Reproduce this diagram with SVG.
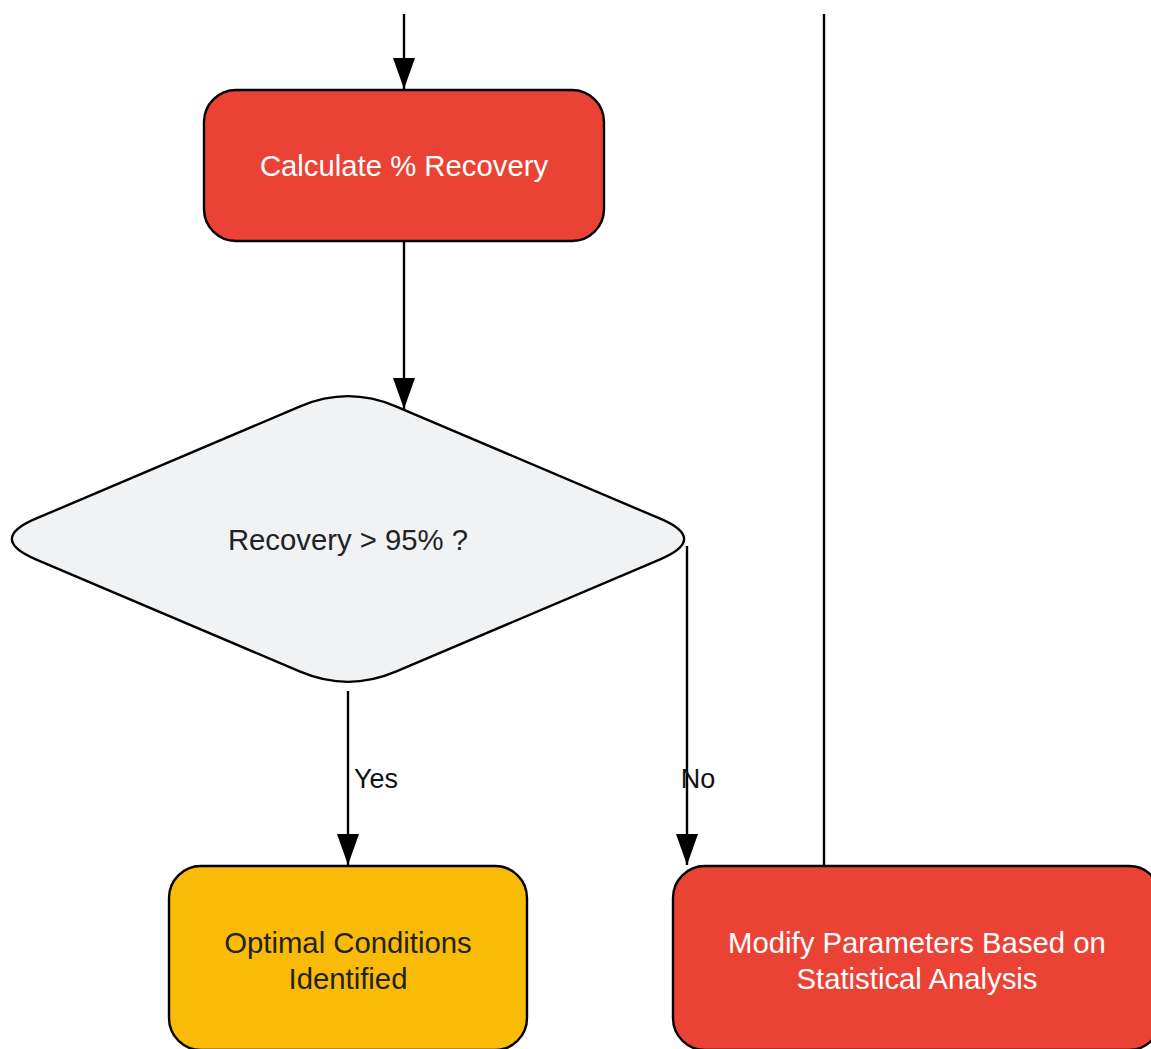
<svg xmlns="http://www.w3.org/2000/svg" width="1151" height="1049" viewBox="0 0 1151 1049">
<defs>
<marker id="arr" markerWidth="31" markerHeight="22" refX="31" refY="11" orient="auto" markerUnits="userSpaceOnUse" viewBox="0 0 31 22">
<path d="M0 0 L31 11 L0 22 Z" fill="#000"/>
</marker>
<style>
.node{stroke:#000;stroke-width:2.4}
.red{fill:#ea4335}
.yellow{fill:#f9bb05}
.grey{fill:#f1f2f4}
.t{font-family:"Liberation Sans",Arial,sans-serif;font-size:29.3px;text-anchor:middle;dominant-baseline:central}
.tw{fill:#ffffff}
.td{fill:#222222}
.edge{stroke:#000;stroke-width:2.4;fill:none}
.lbl{font-family:"Liberation Sans",Arial,sans-serif;font-size:27px;fill:#111;text-anchor:middle;dominant-baseline:central}
</style>
</defs>
<rect width="1151" height="1049" fill="#ffffff"/>
<g id="connectors">
<path class="edge" d="M404 14 V89" marker-end="url(#arr)"/>
<path class="edge" d="M404 241 V409" marker-end="url(#arr)"/>
<path class="edge" d="M348 691 V865" marker-end="url(#arr)"/>
<text class="lbl" x="376" y="779">Yes</text>
<path class="edge" d="M687 546 V865" marker-end="url(#arr)"/>
<text class="lbl" x="698" y="779">No</text>
<path class="edge" d="M824 14 V866"/>
</g>
<g id="node-calc">
<rect class="node red" x="204" y="90" width="400" height="151" rx="32" ry="32"/>
<text class="t tw" x="404" y="165">Calculate % Recovery</text>
</g>
<g id="node-decision">
<path class="node grey" d="M395.8 406.3 L660.2 518.7 Q708 539 660.2 559.3 L395.8 671.7 Q348 692 300.2 671.7 L35.8 559.3 Q-12 539 35.8 518.7 L300.2 406.3 Q348 386 395.8 406.3 Z"/>
<text class="t td" x="348" y="539">Recovery &gt; 95% ?</text>
</g>
<g id="node-optimal">
<rect class="node yellow" x="169" y="866" width="358" height="184" rx="32" ry="32"/>
<text class="t td" x="348" y="942">Optimal Conditions</text>
<text class="t td" x="348" y="978">Identified</text>
</g>
<g id="node-modify">
<rect class="node red" x="673" y="866" width="488" height="184" rx="32" ry="32"/>
<text class="t tw" x="917" y="942">Modify Parameters Based on</text>
<text class="t tw" x="917" y="978">Statistical Analysis</text>
</g>
</svg>
